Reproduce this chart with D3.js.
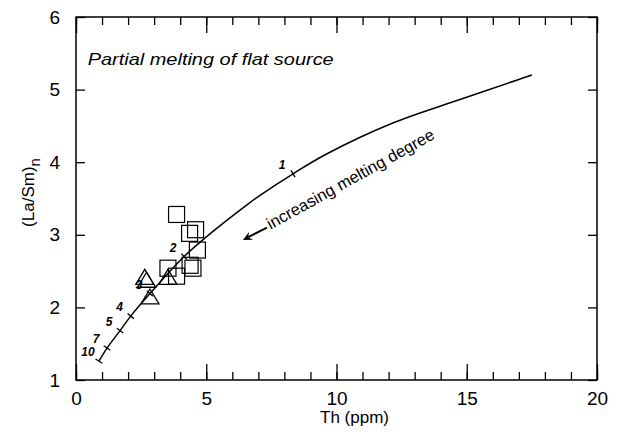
<!DOCTYPE html>
<html lang="en">
<head>
<meta charset="UTF-8">
<title>Partial melting of flat source</title>
<script src="https://cdn.jsdelivr.net/npm/d3@7"></script>
<style>
    body { margin: 0; background: #fff; }
    svg { font-family: Arial, "Liberation Sans", sans-serif; }
</style>
</head>
<body>
<div id="chart"></div>
<script>
    // melting curve (Th ppm vs chondrite-normalised La/Sm)
    const curveTh   = [0.88, 1.19, 1.69, 2.10, 2.84, 4.15, 5.27, 6.55, 7.05, 8.33, 9.60, 12.16, 14.71, 17.00, 17.50];
    const curveLaSm = [1.26, 1.44, 1.68, 1.88, 2.19, 2.70, 3.05, 3.41, 3.54, 3.84, 4.11, 4.54, 4.86, 5.14, 5.20];

    // melting degree marks on the curve
    const degreeLabels = ['10', '7', '5', '4', '3', '2', '1'];
    const degreeTh     = [0.88, 1.19, 1.69, 2.10, 2.84, 4.15, 8.33];
    const degreeLaSm   = [1.26, 1.44, 1.68, 1.88, 2.19, 2.70, 3.84];

    // samples
    const squareTh     = [3.86, 4.59, 4.36, 4.66, 4.38, 4.49, 3.53, 3.86];
    const squareLaSm   = [3.28, 3.07, 3.02, 2.79, 2.58, 2.54, 2.54, 2.43];
    const triangleTh   = [2.71, 2.64, 2.84, 3.53];
    const triangleLaSm = [2.36, 2.40, 2.13, 2.40];

    const xTicks = [0, 5, 10, 15, 20];
    const yTicks = [1, 2, 3, 4, 5, 6];
    const xMinor = d3.range(0, 21, 1);

    const width = 618, height = 439;
    const margin = { top: 17, right: 21, bottom: 59, left: 76 };

    const svg = d3.select('#chart').append('svg')
        .attr('width', width)
        .attr('height', height);

    const x = d3.scaleLinear().domain([0, 20]).range([margin.left, width - margin.right]);
    const y = d3.scaleLinear().domain([1, 6]).range([height - margin.bottom, margin.top]);

    // axes, ticks pointing inward
    function clean(g) {
        g.select('.domain').remove();
        g.selectAll('line').attr('stroke', '#000').attr('stroke-width', 1.3);
    }
    svg.append('g').attr('transform', `translate(0,${y(1)})`)
        .call(d3.axisBottom(x).tickValues(xMinor).tickSize(-8).tickFormat(''))
        .call(clean);
    svg.append('g').attr('transform', `translate(0,${y(1)})`)
        .call(d3.axisBottom(x).tickValues(xTicks).tickSize(-16).tickPadding(12).tickFormat(d3.format('d')))
        .call(clean)
        .selectAll('text').attr('font-size', 19).attr('fill', '#000');
    svg.append('g').attr('transform', `translate(0,${y(6)})`)
        .call(d3.axisTop(x).tickValues(xMinor).tickSize(-8).tickFormat(''))
        .call(clean);
    svg.append('g').attr('transform', `translate(0,${y(6)})`)
        .call(d3.axisTop(x).tickValues(xTicks).tickSize(-16).tickFormat(''))
        .call(clean);
    svg.append('g').attr('transform', `translate(${x(0)},0)`)
        .call(d3.axisLeft(y).tickValues(yTicks).tickSize(-9).tickPadding(16).tickFormat(d3.format('d')))
        .call(clean)
        .selectAll('text').attr('font-size', 19).attr('fill', '#000');
    svg.append('g').attr('transform', `translate(${x(20)},0)`)
        .call(d3.axisRight(y).tickValues(yTicks).tickSize(-9).tickFormat(''))
        .call(clean);

    svg.append('rect')
        .attr('x', x(0)).attr('y', y(6))
        .attr('width', x(20) - x(0)).attr('height', y(1) - y(6))
        .attr('fill', 'none').attr('stroke', '#000').attr('stroke-width', 1.5);

    // axis titles
    svg.append('text')
        .attr('x', (x(0) + x(20)) / 2 + 18).attr('y', height - 16)
        .attr('text-anchor', 'middle').attr('font-size', 17)
        .text('Th (ppm)');
    const yl = svg.append('text')
        .attr('transform', `translate(34,${(y(1) + y(6)) / 2 - 6}) rotate(-90)`)
        .attr('text-anchor', 'middle').attr('font-size', 17);
    yl.append('tspan').text('(La/Sm)');
    yl.append('tspan').attr('font-size', 15).attr('dy', 6).text('n');

    svg.append('text')
        .attr('x', x(0.45)).attr('y', 65)
        .attr('font-size', 17).attr('font-style', 'italic')
        .attr('textLength', 246).attr('lengthAdjust', 'spacingAndGlyphs')
        .text('Partial melting of flat source');

    // curve
    const pts = curveTh.map((t, i) => [x(t), y(curveLaSm[i])]);
    svg.append('path')
        .attr('d', d3.line().curve(d3.curveCatmullRom)(pts))
        .attr('fill', 'none').attr('stroke', '#000').attr('stroke-width', 1.5);

    // degree marks: short bars across the curve
    degreeTh.forEach((t, i) => {
        const px = x(t), py = y(degreeLaSm[i]);
        let k = d3.minIndex(pts, p => (p[0] - px) ** 2 + (p[1] - py) ** 2);
        const a = pts[Math.max(k - 1, 0)], b = pts[Math.min(k + 1, pts.length - 1)];
        const ang = Math.atan2(b[1] - a[1], b[0] - a[0]) + Math.PI / 2;
        const h = 4;
        svg.append('line')
            .attr('x1', px - h * Math.cos(ang)).attr('y1', py - h * Math.sin(ang))
            .attr('x2', px + h * Math.cos(ang)).attr('y2', py + h * Math.sin(ang))
            .attr('stroke', '#000').attr('stroke-width', 1.3);
        svg.append('text')
            .attr('x', px - 11).attr('y', py - 5)
            .attr('text-anchor', 'middle')
            .attr('font-size', 12).attr('font-weight', 'bold').attr('font-style', 'italic')
            .text(degreeLabels[i]);
    });

    // squares
    const sq = 16;
    svg.append('g').selectAll('rect')
        .data(squareTh.map((t, i) => [t, squareLaSm[i]]))
        .join('rect')
        .attr('x', d => x(d[0]) - sq / 2).attr('y', d => y(d[1]) - sq / 2)
        .attr('width', sq).attr('height', sq)
        .attr('fill', 'none').attr('stroke', '#000').attr('stroke-width', 1.2);

    // triangles
    svg.append('g').selectAll('path')
        .data(triangleTh.map((t, i) => [t, triangleLaSm[i]]))
        .join('path')
        .attr('transform', d => `translate(${x(d[0])},${y(d[1])})`)
        .attr('d', 'M0,-9L9,6L-9,6Z')
        .attr('fill', 'none').attr('stroke', '#000').attr('stroke-width', 1.3);

    // arrow + annotation
    const tail = [x(7.33), y(3.10)], tip = [x(6.41), y(2.93)];
    const aa = Math.atan2(tip[1] - tail[1], tip[0] - tail[0]);
    svg.append('line')
        .attr('x1', tail[0]).attr('y1', tail[1])
        .attr('x2', tip[0] - 6 * Math.cos(aa)).attr('y2', tip[1] - 6 * Math.sin(aa))
        .attr('stroke', '#000').attr('stroke-width', 2);
    const hl = 10, hw = 0.45;
    svg.append('path')
        .attr('d', `M${tip[0]},${tip[1]}` +
            `L${tip[0] - hl * Math.cos(aa - hw)},${tip[1] - hl * Math.sin(aa - hw)}` +
            `L${tip[0] - 0.6 * hl * Math.cos(aa)},${tip[1] - 0.6 * hl * Math.sin(aa)}` +
            `L${tip[0] - hl * Math.cos(aa + hw)},${tip[1] - hl * Math.sin(aa + hw)}Z`)
        .attr('fill', '#000');
    svg.append('text')
        .attr('transform', `translate(${x(7.47)},${y(3.07)}) rotate(-29)`)
        .attr('font-size', 16.5)
        .text('increasing melting degree');
</script>
</body>
</html>
